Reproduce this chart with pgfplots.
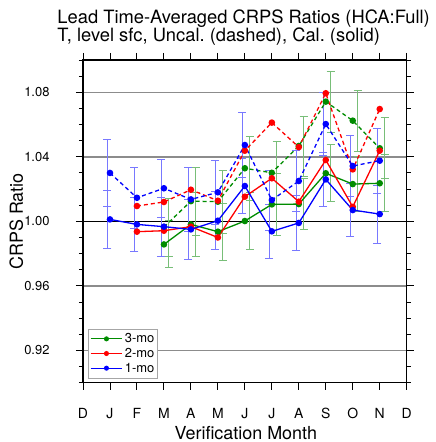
\documentclass[border=0pt]{standalone}
\usepackage{fontspec}
\setmainfont{TeX Gyre Heros}
\usepackage{pgfplots}
\pgfplotsset{compat=1.18}
\definecolor{ncgreen}{RGB}{0,140,0}
\definecolor{errblue}{RGB}{120,120,255}
\definecolor{errgreen}{RGB}{120,190,120}
\begin{document}
\begin{tikzpicture}
\path[use as bounding box] (-83bp,-59.3bp) rectangle (353bp,382.7bp);
\begin{axis}[
  at={(0bp,0bp)}, anchor=south west, scale only axis,
  width=323.7bp, height=322.7bp,
  xmin=0, xmax=12, ymin=0.90, ymax=1.10,
  xtick={0,...,12},
  xticklabels={D,J,F,M,A,M,J,J,A,S,O,N,D},
  ytick={0.92,0.96,1.04,1.08},
  yticklabels={0.92,0.96,1.04,1.08},
  extra y ticks={1.00}, extra y tick labels={1.00},
  extra y tick style={ymajorgrids=true, major grid style={black, line width=0.9bp}},
  minor ytick={0.90,0.91,0.93,0.94,0.95,0.97,0.98,0.99,1.01,1.02,1.03,1.05,1.06,1.07,1.09,1.10},
  ymajorgrids, major grid style={black!45, line width=1.4bp},
  tick align=outside, major tick length=7bp, minor tick length=4bp,
  every tick/.style={black, line width=0.9bp},
  axis line style={line width=1.2bp},
  xticklabel style={font=\fontsize{14}{14}\selectfont, anchor=base, inner sep=0pt, yshift=-29bp},
  yticklabel style={font=\fontsize{13}{13}\selectfont, anchor=east, inner sep=0pt, xshift=-26.3bp},
  xlabel={Verification Month},
  xlabel style={font=\fontsize{18}{18}\selectfont, at={(axis description cs:0.503,0)}, anchor=base, inner sep=0pt, yshift=-56.5bp},
  ylabel={CRPS Ratio},
  ylabel style={font=\fontsize{18}{18}\selectfont, at={(axis description cs:-0.1854,0.5)}, anchor=base, inner sep=0pt},
  title={Lead Time-Averaged CRPS Ratios (HCA:Full)\\T, level sfc, Uncal.\ (dashed), Cal.\ (solid)},
  title style={font=\fontsize{18.4}{16.5}\selectfont, align=left, at={(axis description cs:-0.0794,1)}, anchor=south west, inner sep=0pt, yshift=8bp},
  legend style={at={(axis description cs:0.0164,0.0136)}, anchor=south west,
    font=\fontsize{13}{13}\selectfont, draw=black!35, line width=0.6bp, fill=white,
    inner xsep=1.5bp, inner ysep=2.5bp, row sep=0pt},
  legend cell align=left,
  legend image code/.code={
    \draw[#1] (0bp,0bp) -- (31.7bp,0bp);
    \draw[#1, mark size=2bp] plot[only marks] coordinates {(15.85bp,0bp)};
  },
  every axis plot/.append style={line width=1.3bp, mark=*, mark size=2.6bp, mark options={solid}},
  dashline/.style={dash pattern=on 4bp off 3bp},
  blueerr/.style={draw=none, mark=none, forget plot, error bars/.cd, y dir=both, y explicit, error mark=|,
    error bar style={draw=errblue, line width=0.9bp, solid},
    error mark options={draw=errblue, mark size=4bp, line width=0.9bp}},
  greenerr/.style={draw=none, mark=none, forget plot, error bars/.cd, y dir=both, y explicit, error mark=|,
    error bar style={draw=errgreen, line width=0.9bp, solid},
    error mark options={draw=errgreen, mark size=4bp, line width=0.9bp}},
]
% error bars: 1-mo (blue), around the uncalibrated and calibrated values
\addplot[blueerr] coordinates {(0.9,1.0300) +- (0,0.0206) (1.9,1.0146) +- (0,0.0187) (2.9,1.0205) +- (0,0.0180) (3.9,1.0136) +- (0,0.0197)
  (4.9,1.0180) +- (0,0.0200) (5.9,1.0473) +- (0,0.0203) (6.9,1.0132) +- (0,0.0186) (7.9,1.0250) +- (0,0.0190)
  (8.9,1.0603) +- (0,0.0197) (9.9,1.0343) +- (0,0.0190) (10.9,1.0376) +- (0,0.0200)};
\addplot[blueerr] coordinates {(0.9,1.0012) +- (0,0.0179) (1.9,0.9981) +- (0,0.0170) (2.9,0.9967) +- (0,0.0182) (3.9,0.9950) +- (0,0.0186)
  (4.9,1.0004) +- (0,0.0180) (5.9,1.0219) +- (0,0.0170) (6.9,0.9938) +- (0,0.0168) (7.9,0.9990) +- (0,0.0168)
  (8.9,1.0260) +- (0,0.0170) (9.9,1.0070) +- (0,0.0165) (10.9,1.0045) +- (0,0.0180)};
% error bars: 3-mo (green)
\addplot[greenerr] coordinates {(3.18,0.9960) +- (0,0.0180) (4.18,1.0125) +- (0,0.0210) (5.18,1.0122) +- (0,0.0196) (6.18,1.0329) +- (0,0.0200)
  (7.18,1.0301) +- (0,0.0197) (8.18,1.0467) +- (0,0.0186) (9.18,1.0742) +- (0,0.0190) (10.18,1.0624) +- (0,0.0190)
  (11.18,1.0453) +- (0,0.0190)};
\addplot[greenerr] coordinates {(3.18,0.9860) +- (0,0.0146) (4.18,0.9981) +- (0,0.0196) (5.18,0.9936) +- (0,0.0176) (6.18,1.0002) +- (0,0.0178)
  (7.18,1.0105) +- (0,0.0190) (8.18,1.0107) +- (0,0.0160) (9.18,1.0298) +- (0,0.0176) (10.18,1.0231) +- (0,0.0170)
  (11.18,1.0236) +- (0,0.0176)};
% 3-mo lead (green)
\addplot[ncgreen, dashline, forget plot] coordinates {(3,0.9965) (4,1.0125) (5,1.0122) (6,1.0329) (7,1.0301) (8,1.0467) (9,1.0742) (10,1.0624) (11,1.0453)};
\addplot[ncgreen, forget plot] coordinates {(3,0.9857) (4,0.9981) (5,0.9936) (6,1.0002) (7,1.0105) (8,1.0107) (9,1.0298) (10,1.0231) (11,1.0236)};
% 2-mo lead (red)
\addplot[red, dashline, forget plot] coordinates {(2,1.0095) (3,1.0120) (4,1.0196) (5,1.0128) (6,1.0438) (7,1.0612) (8,1.0460) (9,1.0794) (10,1.0322) (11,1.0696)};
\addplot[red, forget plot] coordinates {(2,0.9936) (3,0.9942) (4,0.9967) (5,0.9900) (6,1.0153) (7,1.0267) (8,1.0122) (9,1.0380) (10,1.0090) (11,1.0438)};
% 1-mo lead (blue)
\addplot[blue, dashline, forget plot] coordinates {(1,1.0300) (2,1.0146) (3,1.0205) (4,1.0136) (5,1.0180) (6,1.0473) (7,1.0132) (8,1.0250) (9,1.0603) (10,1.0343) (11,1.0376)};
\addplot[blue, forget plot] coordinates {(1,1.0012) (2,0.9981) (3,0.9967) (4,0.9950) (5,1.0004) (6,1.0219) (7,0.9938) (8,0.9990) (9,1.0260) (10,1.0070) (11,1.0045)};
\addlegendimage{ncgreen, line width=1bp, mark=*}
\addlegendentry{3-mo}
\addlegendimage{red, line width=1bp, mark=*}
\addlegendentry{2-mo}
\addlegendimage{blue, line width=1bp, mark=*}
\addlegendentry{1-mo}
\end{axis}
\end{tikzpicture}
\end{document}
